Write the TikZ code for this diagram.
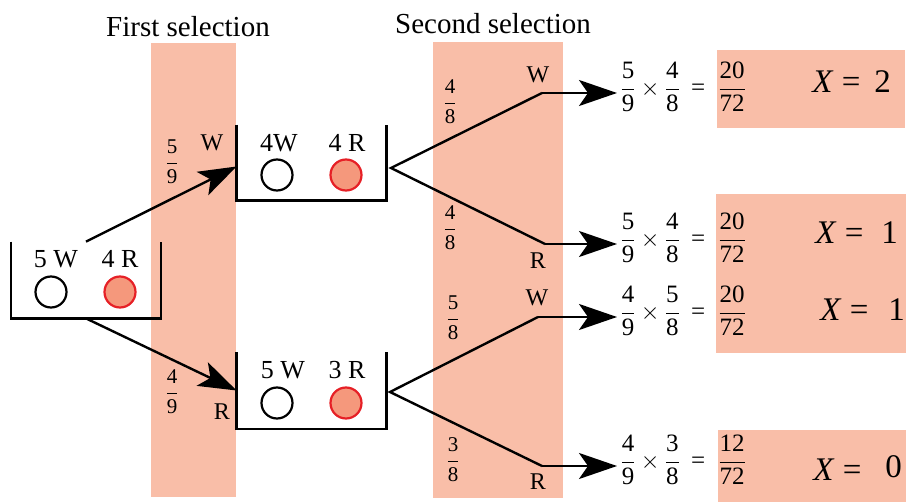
\documentclass[tikz,border=0pt]{standalone}
\usepackage{amsmath}
\usepackage{fontspec}
\setmainfont{Liberation Serif}
\usetikzlibrary{arrows.meta}
\definecolor{bandfill}{RGB}{249,190,168}
\definecolor{ballfill}{RGB}{245,152,124}
\definecolor{ballline}{RGB}{230,32,38}
\newcommand{\probfrac}[2]{$\dfrac{\mbox{#1}}{\mbox{#2}}$}
\begin{document}
\begin{tikzpicture}[x=0.5pt, y=-0.5pt,
    band/.style={fill=bandfill, draw=none},
    urn/.style={rectangle, minimum width=74.5pt, minimum height=38pt, inner sep=0pt},
    wall/.style={line width=1.2pt, line join=miter},
    whiteball/.style={circle, draw=black, line width=1.1pt, minimum size=15.5pt, inner sep=0pt},
    redball/.style={circle, draw=ballline, fill=ballfill, line width=1.1pt, minimum size=15.5pt, inner sep=0pt},
    count/.style={font=\fontsize{13}{15}\selectfont, inner sep=0pt},
    title/.style={font=\fontsize{14.5}{17}\selectfont, inner sep=0pt},
    colour/.style={font=\fontsize{12}{14}\selectfont, inner sep=0pt},
    prob/.style={font=\fontsize{10.5}{12}\selectfont, inner sep=0pt},
    product/.style={anchor=west, font=\fontsize{12.5}{15}\selectfont, inner sep=1pt},
    xval/.style={anchor=west, font=\fontsize{16.5}{19}\selectfont, inner sep=0pt},
    branch/.style={line width=1.2pt},
    arrow/.style={-{Stealth[length=19pt, width=13pt, inset=4.5pt]}, line width=1.2pt},
]
\useasboundingbox (0,0) rectangle (906,502);

% shaded columns and result boxes
\fill[band] (151,43) rectangle (236,497);
\fill[band] (433,42) rectangle (563,498);
\fill[band] (717,50) rectangle (905,128);
\fill[band] (716,194) rectangle (906,353);
\fill[band] (718,430) rectangle (906,502);

\node[title] (first) at (188,27) {First selection};
\node[title] (second) at (493,24) {Second selection};

% urns
\node[urn] (urnA) at (86,280) {};
\node[urn, minimum height=37.5pt] (urnB) at (311.5,162.5) {};
\node[urn] (urnC) at (311.5,390.5) {};
\draw[wall] (urnA.north west) -- (urnA.south west) -- (urnA.south east) -- (urnA.north east);
\draw[wall] (urnB.north west) -- (urnB.south west) -- (urnB.south east) -- (urnB.north east);
\draw[wall] (urnC.north west) -- (urnC.south west) -- (urnC.south east) -- (urnC.north east);

\node[count] (aW) at (56,259) {5 W};
\node[count] (aR) at (120,259) {4 R};
\node[whiteball] (aWball) at (51,292) {};
\node[redball] (aRball) at (120,292) {};
\node[count] (bWn) at (279,143) {4W};
\node[count] (bRn) at (347,143) {4 R};
\node[whiteball] (bWball) at (277,175) {};
\node[redball] (bRball) at (346,175) {};
\node[count] (cWn) at (283,370) {5 W};
\node[count] (cRn) at (347,370) {3 R};
\node[whiteball] (cWball) at (277,403) {};
\node[redball] (cRball) at (346,403) {};

% first selection
\draw[arrow] (urnA.north) -- ([yshift=-2pt]urnB.west);
\draw[arrow] (urnA.south) -- (urnC.west);
\node[prob] (pA) at (172,162) {\probfrac{5}{9}};
\node[colour] (lA) at (212,143) {W};
\node[prob] (pB) at (172,392) {\probfrac{4}{9}};
\node[colour] (lB) at (222,412) {R};

% second selection
\coordinate (fromB) at (391,168);
\coordinate (bW) at (542,93);
\coordinate (bR) at (545,244);
\coordinate (fromC) at (390,392);
\coordinate (cW) at (538,317);
\coordinate (cR) at (542,466);
\draw[branch] (bW) -- (fromB) -- (bR);
\draw[branch] (cW) -- (fromC) -- (cR);

\node[prob] (pBW) at (450,102) {\probfrac{4}{8}};
\node[colour] (lBW) at (538,75) {W};
\node[prob] (pBR) at (450,228) {\probfrac{4}{8}};
\node[colour] (lBR) at (538,261) {R};
\node[prob] (pCW) at (453,318) {\probfrac{5}{8}};
\node[colour] (lCW) at (537,298) {W};
\node[prob] (pCR) at (453,460) {\probfrac{3}{8}};
\node[colour] (lCR) at (538,482) {R};

% products
\node[product] (WW) at (617,87) {\probfrac{5}{9}\,$\times$\,\probfrac{4}{8}\hspace{5pt}=\hspace{6pt}\probfrac{20}{72}};
\node[product] (WR) at (617,238) {\probfrac{5}{9}\,$\times$\,\probfrac{4}{8}\hspace{5pt}=\hspace{6pt}\probfrac{20}{72}};
\node[product] (RW) at (617,311) {\probfrac{4}{9}\,$\times$\,\probfrac{5}{8}\hspace{5pt}=\hspace{6pt}\probfrac{20}{72}};
\node[product] (RR) at (617,460) {\probfrac{4}{9}\,$\times$\,\probfrac{3}{8}\hspace{5pt}=\hspace{6pt}\probfrac{12}{72}};
\draw[arrow] (bW) -- (bW -| WW.west);
\draw[arrow] (bR) -- (bR -| WR.west);
\draw[arrow] (cW) -- (cW -| RW.west);
\draw[arrow] (cR) -- (cR -| RR.west);

\node[xval] (xWW) at (812,82) {\textit{X} =\hspace{7pt}2};
\node[xval] (xWR) at (815,233) {\textit{X} =\hspace{9pt}1};
\node[xval] (xRW) at (820,310) {\textit{X} =\hspace{10pt}1};
\node[xval] (xRR) at (813,468) {\textit{X} =\hspace{12pt}\raisebox{1.5pt}{0}};
\end{tikzpicture}
\end{document}
